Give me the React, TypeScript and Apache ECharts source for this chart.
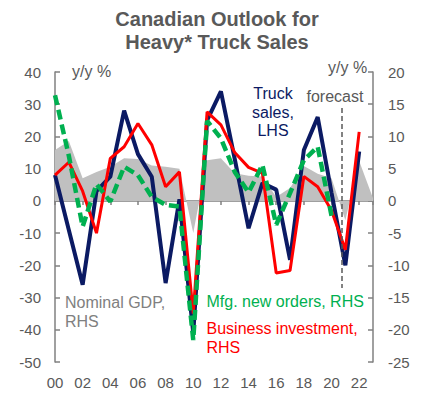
import React, { useEffect, useRef } from "react";
import * as echarts from "echarts";

const years = [2000, 2001, 2002, 2003, 2004, 2005, 2006, 2007, 2008, 2009, 2010, 2011, 2012, 2013, 2014, 2015, 2016, 2017, 2018, 2019, 2020, 2021, 2022, 2023];
const xTickLabels = ["00", "02", "04", "06", "08", "10", "12", "14", "16", "18", "20", "22"];
const leftTicks = { min: -50, max: 40, interval: 10 };
const rightTicks = { min: -25, max: 20, interval: 5 };

// Truck sales, LHS (y/y %)
const truckSales = [8, -9, -26, 3, 7.5, 28, 14.5, 7.5, -25.5, 0.5, -41, 25, 34, 13, -8.5, 5.5, 3.5, -18.3, 15.8, 26, 2.5, -20, 15.3];
// Business investment, RHS
const bizInvestment = [4, 6, 1.5, -5, 6.6, 8.4, 12, 8.7, 2.2, 4.5, -17.5, 13.8, 11.8, 7.5, 5.2, 4.3, -11.2, -10.8, 3.8, 2.2, -1.5, -7.6, 10.7];
// Mfg. new orders, RHS
const mfgOrders = [16.4, 7, -4, 2.6, -0.1, 5.3, 4, 0.6, -0.6, -0.9, -21.6, 12.4, 9.7, 4.5, 1.3, 5.6, -3.7, 1.2, 6.3, 8.4, -2.3];
// Nominal GDP, RHS
const nominalGdp = [7.9, 9.3, 3.5, 4.5, 5.3, 6.6, 6.5, 5.5, 5.3, 5.0, -5, 6.3, 6.6, 4.3, 3.9, 3.8, 0.6, 2.0, 5.4, 4.2, 3.5, -3, 6.2, 0.4];
// forecast marker
const forecastAt = 2020.75;
const forecastRange = [14.4, -13.5];

const pairs = (vals: number[]) => vals.map((v, i) => [years[i], v]);

const FONT = "'Liberation Sans', Arial, sans-serif";
const AXIS_GRAY = "#808080";
const TEXT_GRAY = "#595959";

export default function App() {
  const ref = useRef<HTMLDivElement>(null);
  useEffect(() => {
    document.body.style.margin = "0";
    if (!ref.current) return;
    const chart = echarts.init(ref.current, undefined, { renderer: "svg" });
    const axisLabel = { color: TEXT_GRAY, fontSize: 15, fontFamily: FONT };
    chart.setOption({
      animation: false,
      title: {
        text: "Canadian Outlook for\nHeavy* Truck Sales",
        left: "center",
        top: 3,
        textStyle: { color: TEXT_GRAY, fontSize: 20, fontWeight: "bold", fontFamily: FONT, lineHeight: 22.5 },
      },
      grid: { left: 55, right: 61, top: 72, bottom: 37, containLabel: false },
      xAxis: [
        {
          type: "value",
          min: 2000,
          max: 2023,
          interval: 2,
          position: "bottom",
          axisLine: { show: false, onZero: false },
          axisTick: { show: false },
          splitLine: { show: false },
          axisLabel: {
            ...axisLabel,
            margin: 13,
            showMaxLabel: false,
            formatter: (v: number) => {
              const s = String(v).slice(2);
              return xTickLabels.includes(s) ? s : "";
            },
          },
        },
        {
          type: "value",
          min: 2000,
          max: 2023,
          interval: 2,
          position: "top",
          axisLine: { show: true, onZero: true, lineStyle: { color: AXIS_GRAY, width: 1.5 } },
          axisTick: { show: true, inside: true, length: 4, lineStyle: { color: AXIS_GRAY, width: 1.5 } },
          axisLabel: { show: false },
          splitLine: { show: false },
        },
      ],
      yAxis: [
        {
          type: "value",
          position: "left",
          ...leftTicks,
          axisLine: { show: true, onZero: false, lineStyle: { color: AXIS_GRAY, width: 1.5 } },
          axisTick: { show: true, inside: true, length: 5, lineStyle: { color: AXIS_GRAY, width: 1.5 } },
          axisLabel: { ...axisLabel, margin: 14 },
          splitLine: { show: false },
        },
        {
          type: "value",
          position: "right",
          ...rightTicks,
          axisLine: { show: true, onZero: false, lineStyle: { color: AXIS_GRAY, width: 1.5 } },
          axisTick: { show: true, inside: true, length: 5, lineStyle: { color: AXIS_GRAY, width: 1.5 } },
          axisLabel: { ...axisLabel, margin: 15 },
          splitLine: { show: false },
        },
      ],
      series: [
        {
          name: "Nominal GDP, RHS",
          type: "line",
          xAxisIndex: 0,
          yAxisIndex: 1,
          data: pairs(nominalGdp),
          symbol: "none",
          lineStyle: { width: 0, color: "#c0c0c0" },
          areaStyle: { color: "#c0c0c0", opacity: 1 },
          z: 1,
          markLine: {
            silent: true,
            symbol: "none",
            label: { show: false },
            lineStyle: { color: TEXT_GRAY, type: [5, 3], width: 1.5 },
            data: [[{ coord: [forecastAt, forecastRange[0]] }, { coord: [forecastAt, forecastRange[1]] }]],
          },
        },
        {
          name: "Truck sales, LHS",
          type: "line",
          xAxisIndex: 0,
          yAxisIndex: 0,
          data: pairs(truckSales),
          symbol: "none",
          lineStyle: { width: 4, color: "#0b1a63" },
          z: 3,
        },
        {
          name: "Business investment, RHS",
          type: "line",
          xAxisIndex: 0,
          yAxisIndex: 1,
          data: pairs(bizInvestment),
          symbol: "none",
          lineStyle: { width: 3, color: "#ff0000" },
          z: 4,
        },
        {
          name: "Mfg. new orders, RHS",
          type: "line",
          xAxisIndex: 0,
          yAxisIndex: 1,
          data: pairs(mfgOrders),
          symbol: "none",
          lineStyle: { width: 4.5, color: "#00b050", type: [10, 5] },
          z: 5,
        },
      ],
      graphic: [
        { type: "text", x: 72, y: 71, style: { text: "y/y %", fill: TEXT_GRAY, fontSize: 16, fontFamily: FONT, align: "left", verticalAlign: "middle", textAlign: "left", textVerticalAlign: "middle" } },
        { type: "text", x: 328, y: 67.5, style: { text: "y/y %", fill: TEXT_GRAY, fontSize: 16, fontFamily: FONT, align: "left", verticalAlign: "middle", textAlign: "left", textVerticalAlign: "middle" } },
        { type: "text", x: 306.5, y: 96, style: { text: "forecast", fill: TEXT_GRAY, fontSize: 16, fontFamily: FONT, align: "left", verticalAlign: "middle", textAlign: "left", textVerticalAlign: "middle" } },
        { type: "text", x: 273, y: 84.5, style: { text: "Truck\nsales,\nLHS", fill: "#0b1a63", fontSize: 16, lineHeight: 18.5, fontFamily: FONT, align: "center", verticalAlign: "top", textAlign: "center", textVerticalAlign: "top" } },
        { type: "text", x: 65, y: 293.5, style: { text: "Nominal GDP,\nRHS", fill: "#808080", fontSize: 16, lineHeight: 18.5, fontFamily: FONT, align: "left", verticalAlign: "top", textAlign: "left", textVerticalAlign: "top" } },
        { type: "text", x: 206.5, y: 292.5, style: { text: "Mfg. new orders, RHS", fill: "#00b050", fontSize: 16, lineHeight: 18.5, fontFamily: FONT, align: "left", verticalAlign: "top", textAlign: "left", textVerticalAlign: "top" } },
        { type: "text", x: 206.5, y: 319.5, style: { text: "Business investment,\nRHS", fill: "#ff0000", fontSize: 16, lineHeight: 18.5, fontFamily: FONT, align: "left", verticalAlign: "top", textAlign: "left", textVerticalAlign: "top" } },
      ],
    });
    return () => chart.dispose();
  }, []);
  return <div ref={ref} style={{ width: 434, height: 399 }} />;
}
